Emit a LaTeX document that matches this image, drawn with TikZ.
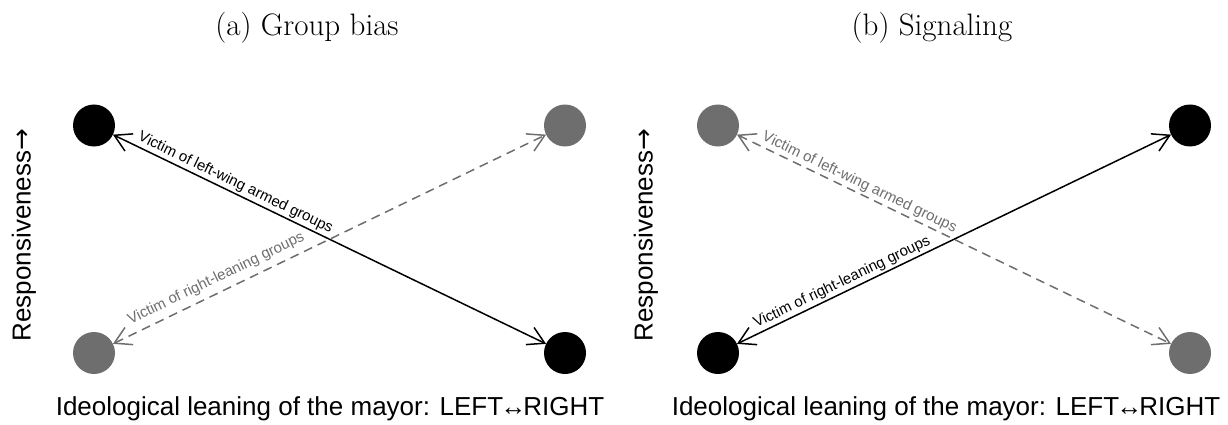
\documentclass[tikz,border=0pt]{standalone}
\usepackage{fontspec}
\setsansfont{Liberation Sans}
\newfontfamily\arrowfont{DejaVu Sans}
\usepackage{tikz}
\usetikzlibrary{arrows.meta}

\definecolor{dimgrey}{HTML}{6E6E6E}

\begin{document}
\begin{tikzpicture}[x=1pt,y=1pt,
    dot/.style={circle,inner sep=0pt,outer sep=0pt,minimum size=42pt,fill=#1},
    rel/.style={line width=1.5pt,{Straight Barb[angle=60:19pt]}-{Straight Barb[angle=60:19pt]}},
    relgrey/.style={rel,dimgrey,dash pattern=on 9pt off 6pt},
    lab/.style={font=\sffamily\fontsize{15}{18}\selectfont,sloped,anchor=south west,pos=0.045,inner sep=2pt},
    axlab/.style={font=\sffamily\fontsize{26}{30}\selectfont},
    ttl/.style={font=\fontsize{31}{36}\selectfont,anchor=base}]
  \useasboundingbox (0,0) rectangle (1228,-425);

  % (a) group bias
  \node[ttl] (ttlA) at (307,-36) {(a) Group bias};
  \node[dot=black] (aTL) at (94,-125.5) {};
  \node[dot=dimgrey] (aTR) at (565,-125.5) {};
  \node[dot=dimgrey] (aBL) at (94,-353) {};
  \node[dot=black] (aBR) at (565,-353) {};
  \draw[relgrey] (aBL) -- node[lab,text=dimgrey,yshift=4pt] {Victim of right-leaning groups} (aTR);
  \draw[rel] (aTL) -- node[lab] {Victim of left-wing armed groups} (aBR);
  \node[axlab,anchor=base] (xA) at (330,-415) {Ideological leaning of the mayor: LEFT\kern-3pt↔\kern-3pt RIGHT};
  \node[axlab,rotate=90] (yA) at (24,-235) {Responsiveness{\arrowfont →}};

  % (b) signaling
  \node[ttl] (ttlB) at (932,-36) {(b) Signaling};
  \node[dot=dimgrey] (bTL) at (718,-125.5) {};
  \node[dot=black] (bTR) at (1190,-125.5) {};
  \node[dot=black] (bBL) at (718,-353) {};
  \node[dot=dimgrey] (bBR) at (1190,-353) {};
  \draw[relgrey] (bTL) -- node[lab,text=dimgrey] {Victim of left-wing armed groups} (bBR);
  \draw[rel] (bBL) -- node[lab] {Victim of right-leaning groups} (bTR);
  \node[axlab,anchor=base] (xB) at (946,-415) {Ideological leaning of the mayor: LEFT\kern-3pt↔\kern-3pt RIGHT};
  \node[axlab,rotate=90] (yB) at (646,-235) {Responsiveness{\arrowfont →}};
\end{tikzpicture}
\end{document}
